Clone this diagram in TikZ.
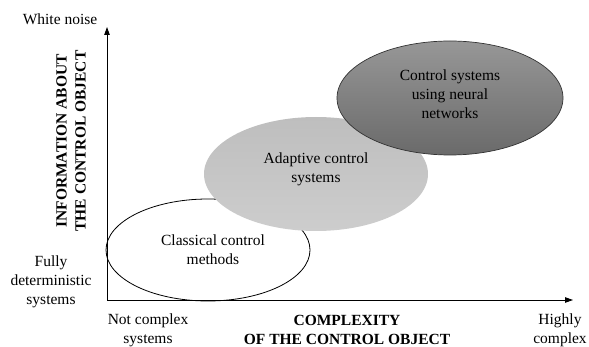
\documentclass[tikz,border=0pt]{standalone}
\usepackage{fontspec}
\setmainfont{Liberation Serif}
\usetikzlibrary{shapes.geometric,arrows.meta}
\definecolor{adaptTop}{HTML}{BEBEBE}
\definecolor{adaptBot}{HTML}{CDCDCD}
\definecolor{neurTop}{HTML}{979797}
\definecolor{neurBot}{HTML}{6A6A6A}
\begin{document}
\begin{tikzpicture}[x=1pt,y=-1pt,
  every node/.style={font=\fontsize{15.5}{19}\selectfont, inner sep=0pt},
  lbl/.style={align=center},
  blbl/.style={align=center, font=\fontsize{15.5}{19}\selectfont\bfseries},
  axisline/.style={line width=0.9pt, -{Triangle[length=8pt,width=5.5pt]}},
  region/.style={ellipse, align=center}]
\useasboundingbox (0,0) rectangle (589,347);
% ellipses
\node[region, draw, line width=0.8pt, fill=white, minimum width=204pt, minimum height=102pt] (classical) at (208,250) {};
\node[align=center] (classicalT) at (213,250) {Classical control\\methods};
\node[region, top color=adaptTop, bottom color=adaptBot, minimum width=224pt, minimum height=114pt] (adaptive) at (316,174) {};
\node[align=center] (adaptiveT) at (316,169) {Adaptive control\\systems};
\node[region, draw=black!80, line width=0.7pt, top color=neurTop, bottom color=neurBot, minimum width=226pt, minimum height=114pt] (neural) at (450,98) {};
\node[align=center] (neuralT) at (450,94) {Control systems\\using neural\\networks};
% axes
\coordinate (O) at (107,300);
\coordinate (ytop) at (107,27);
\coordinate (xend) at (573,300);
\draw[axisline] (O) -- (ytop);
\draw[axisline] (O) -- (xend);
% labels
\node[lbl] (wn) at (60,19) {White noise};
\node[blbl, rotate=90] (ylab) at (71,141) {INFORMATION ABOUT\\THE CONTROL OBJECT};
\node[lbl] (fd) at (51,282) {Fully\\deterministic\\systems};
\node[lbl] (nc) at (148,330) {Not complex\\systems};
\node[blbl] (xlab) at (347,330) {COMPLEXITY\\OF THE CONTROL OBJECT};
\node[lbl] (hc) at (560,330) {Highly\\complex};
\end{tikzpicture}
\end{document}
